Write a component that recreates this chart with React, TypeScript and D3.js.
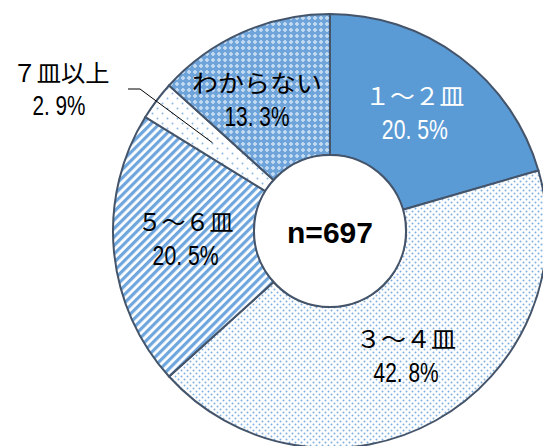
import React from "react";
import * as d3 from "d3";

const categories = ["１～２皿", "３～４皿", "５～６皿", "７皿以上", "わからない"];
const values = [20.5, 42.8, 20.5, 2.9, 13.3];
const percentLabels = ["20. 5%", "42. 8%", "20. 5%", "2. 9%", "13. 3%"];
const sampleLabel = "n=697";

const W = 543;
const H = 446;
const CX = 330;
const CY = 231;
const R_OUT = 217;
const R_IN = 76;
const R_LABEL = 148;
const STROKE = "#44546A";
const FONT = "'Noto Sans CJK JP', sans-serif";
const PCT_FONT = "'Liberation Sans', Arial, sans-serif";

const fills = ["#5B9BD5", "url(#dots)", "url(#stripes)", "url(#sparse)", "url(#diamond)"];
const textColors = ["#FFFFFF", "#000000", "#000000", "#000000", "#000000"];
const nameLen = [99, 100, 96, 97, 130];
const pctLen = [66, 65, 66, 53, 65];
const nudgeX = [-4, 4, 3, 0, -13];
const nudgeY = [0, -4, -5, 0, 4];

export default function App() {
  const pie = d3.pie<number>().sort(null).value((d) => d)(values);
  const arc = d3.arc<d3.PieArcDatum<number>>().innerRadius(R_IN).outerRadius(R_OUT);
  const labelArc = d3.arc<d3.PieArcDatum<number>>().innerRadius(R_LABEL).outerRadius(R_LABEL);

  const outsideIdx = 3;
  const leaderEnd = d3.arc<d3.PieArcDatum<number>>().innerRadius(147).outerRadius(147).centroid(pie[outsideIdx]);
  const elbow: [number, number] = [140 - CX, 89 - CY];
  const lineStart: [number, number] = [128 - CX, 89 - CY];

  return (
    <svg width={W} height={H} style={{ position: "absolute", left: 0, top: 0 }}>
      <defs>
        <pattern id="dots" width="6" height="6" patternUnits="userSpaceOnUse">
          <rect width="6" height="6" fill="#FFFFFF" />
          <circle cx="1.5" cy="1.5" r="1" fill="#7FB0E0" />
          <circle cx="4.5" cy="4.5" r="1" fill="#7FB0E0" />
        </pattern>
        <pattern id="sparse" width="10" height="10" patternUnits="userSpaceOnUse">
          <rect width="10" height="10" fill="#FFFFFF" />
          <circle cx="2.5" cy="2.5" r="1" fill="#8DB9E4" />
          <circle cx="7.5" cy="7.5" r="1" fill="#8DB9E4" />
        </pattern>
        <pattern id="stripes" width="6" height="6" patternUnits="userSpaceOnUse" patternTransform="rotate(45)">
          <rect width="6" height="6" fill="#FFFFFF" />
          <rect width="3.2" height="6" fill="#6FA6DD" />
        </pattern>
        <pattern id="diamond" width="6" height="6" patternUnits="userSpaceOnUse">
          <rect width="6" height="6" fill="#6FA4DA" />
          <rect x="2" y="1" width="2" height="4" fill="#B9D4EF" />
          <rect x="1" y="2" width="4" height="2" fill="#B9D4EF" />
          <rect x="2.5" y="2.5" width="1" height="1" fill="#E4EEF9" />
        </pattern>
      </defs>
      <g transform={`translate(${CX},${CY})`}>
        {pie.map((p, i) => (
          <path key={i} d={arc(p) || ""} fill={fills[i]} stroke={STROKE} strokeWidth={2} />
        ))}
        <circle r={R_IN} fill="#FFFFFF" stroke={STROKE} strokeWidth={2} />
        {pie.map((p, i) => {
          if (i === outsideIdx) return null;
          const [x, y] = labelArc.centroid(p);
          const lx = x + nudgeX[i];
          const ly = y + nudgeY[i];
          return (
            <g key={`l${i}`} fill={textColors[i]} textAnchor="middle">
              <text x={lx} y={ly - 8} fontFamily={FONT} fontSize={24} textLength={nameLen[i]} lengthAdjust="spacingAndGlyphs">
                {categories[i]}
              </text>
              <text x={lx} y={ly + 26} fontFamily={PCT_FONT} fontSize={27} textLength={pctLen[i]} lengthAdjust="spacingAndGlyphs">
                {percentLabels[i]}
              </text>
            </g>
          );
        })}
        <polyline
          points={`${lineStart[0]},${lineStart[1]} ${elbow[0]},${elbow[1]} ${leaderEnd[0]},${leaderEnd[1]}`}
          fill="none"
          stroke="#000000"
          strokeWidth={1}
        />
        <g textAnchor="middle" fill="#000000">
          <text x={61 - CX} y={82 - CY} fontFamily={FONT} fontSize={24} textLength={nameLen[outsideIdx]} lengthAdjust="spacingAndGlyphs">
            {categories[outsideIdx]}
          </text>
          <text x={59 - CX} y={115 - CY} fontFamily={PCT_FONT} fontSize={27} textLength={pctLen[outsideIdx]} lengthAdjust="spacingAndGlyphs">
            {percentLabels[outsideIdx]}
          </text>
        </g>
        <text x={0} y={12} textAnchor="middle" fontFamily={PCT_FONT} fontWeight="bold" fontSize={30}>
          {sampleLabel}
        </text>
      </g>
    </svg>
  );
}
